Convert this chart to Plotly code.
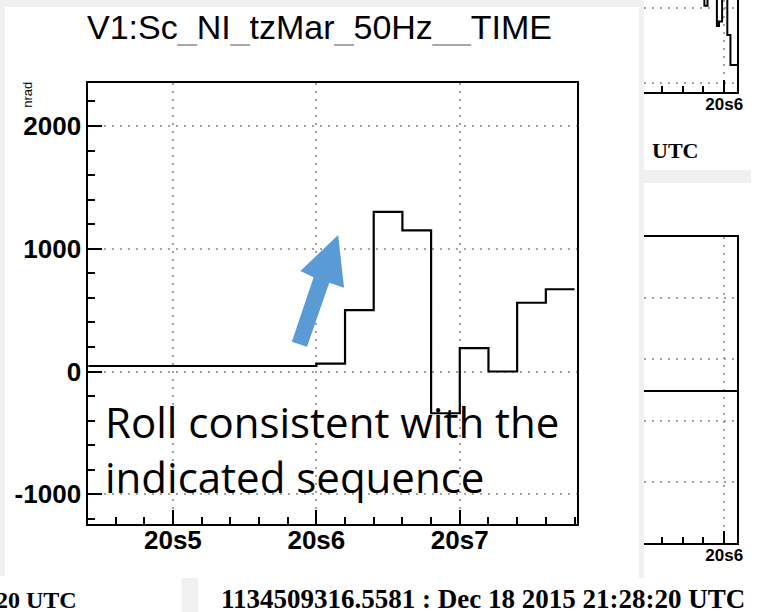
import plotly.graph_objects as go

# main panel: V1:Sc_NI_tzMar_50Hz__TIME, 0.2 s bins (seconds after 21:28:20 UTC)
bin_edges = [4.4, 4.6, 4.8, 5.0, 5.2, 5.4, 5.6, 5.8, 6.0, 6.2, 6.4, 6.6, 6.8, 7.0, 7.2, 7.4, 7.6, 7.8]
roll_nrad = [45, 45, 45, 45, 45, 45, 45, 45, 65, 500, 1300, 1150, -340, 190, 0, 560, 670]

x_tickvals = [5, 6, 7]
x_ticktext = ["20s5", "20s6", "20s7"]
y_tickvals = [-1000, 0, 1000, 2000]
y_ticktext = ["-1000", "0", "1000", "2000"]

# neighbouring panels, only partly visible on the right
top_t = [5.2, 5.80, 5.81, 5.84, 5.93, 5.95, 5.98, 6.03, 6.06, 6.13]
top_v = [1500, 1500, 1030, 1500, 760, 820, 1500, 640, 240, 240]
bot_t = [5.2, 6.13]
bot_v = [1.48, 1.48]
side_tickvals = [6]
side_ticktext = ["20s6"]

W, H = 757, 612
GRAY = "#f0f0f0"
GRID = "#a3a3a3"


def px(x):
    return x / W


def py(y):
    return 1 - y / H


fig = go.Figure()
fig.add_trace(go.Scatter(x=bin_edges, y=roll_nrad + [roll_nrad[-1]], mode="lines",
                         line=dict(shape="hv", color="black", width=2.2),
                         xaxis="x", yaxis="y", showlegend=False))
fig.add_trace(go.Scatter(x=top_t, y=top_v, mode="lines",
                         line=dict(shape="hv", color="black", width=2),
                         xaxis="x2", yaxis="y2", showlegend=False))
fig.add_trace(go.Scatter(x=bot_t, y=bot_v, mode="lines",
                         line=dict(color="black", width=2),
                         xaxis="x3", yaxis="y3", showlegend=False))

tick_font = dict(family="Liberation Sans", size=26, color="black", weight="bold")
small_font = dict(family="Liberation Sans", size=17, color="black", weight="bold")
common = dict(showline=True, linecolor="black", linewidth=2, zeroline=False,
              showgrid=True, gridcolor=GRID, gridwidth=1.5, griddash="2px,6px",
              tickcolor="black", tickwidth=2, ticks="inside")

fig.update_layout(
    width=W, height=H,
    margin=dict(l=0, r=0, t=0, b=0),
    paper_bgcolor="white", plot_bgcolor="white",
    xaxis=dict(domain=[px(89), px(582)], range=[4.41, 7.82], anchor="y",
               tickmode="array", tickvals=x_tickvals, ticktext=x_ticktext,
               ticklen=14, mirror=True, tickfont=tick_font, ticklabelstandoff=-8,
               minor=dict(dtick=0.2, tick0=5, ticks="inside", ticklen=7,
                          tickwidth=2, tickcolor="black", showgrid=False),
               **common),
    yaxis=dict(domain=[py(524), py(83)], range=[-1242, 2350], anchor="x",
               tickmode="array", tickvals=y_tickvals, ticktext=y_ticktext,
               ticklen=14, mirror=True, tickfont=tick_font,
               minor=dict(dtick=200, tick0=0, ticks="inside", ticklen=7,
                          tickwidth=2, tickcolor="black", showgrid=False),
               **common),
    xaxis2=dict(domain=[px(649), px(743)], range=[5.229, 6.124], anchor="y2",
                tickmode="array", tickvals=side_tickvals, ticktext=side_ticktext,
                ticklen=12, tickfont=small_font, ticklabelstandoff=-4,
                minor=dict(dtick=0.2, tick0=6, ticks="inside", ticklen=6,
                           tickwidth=2, tickcolor="black", showgrid=False),
                **common),
    yaxis2=dict(domain=[py(92), 1], range=[-120, 1107], anchor="x2", side="right",
                tickvals=[0, 1000], showticklabels=False,
                **{**common, "ticks": ""}),
    xaxis3=dict(domain=[px(649), px(743)], range=[5.229, 6.124], anchor="y3",
                tickmode="array", tickvals=side_tickvals, ticktext=side_ticktext,
                ticklen=12, mirror=True, tickfont=small_font, ticklabelstandoff=-4,
                minor=dict(dtick=0.2, tick0=6, ticks="inside", ticklen=6,
                           tickwidth=2, tickcolor="black", showgrid=False),
                **common),
    yaxis3=dict(domain=[py(543), py(237)], range=[-0.992, 3.984], anchor="x3", side="right",
                tickvals=[0, 1, 2, 3], showticklabels=False,
                **{**common, "ticks": ""}),
)

# grey gaps between the canvases of the screenshot
for x0, y0, x1, y1 in [(0, 0, 644, 7), (0, 0, 5, 576), (644, 0, 649, 578),
                       (649, 170, 757, 183), (183, 578, 200, 612)]:
    fig.add_shape(type="rect", xref="paper", yref="paper",
                  x0=px(x0), x1=px(x1), y0=py(y1), y1=py(y0),
                  fillcolor=GRAY, line=dict(width=0), layer="above")

# blue arrow (data coordinates of the main panel)
arrow = [(5.829, 243), (5.981, 767), (5.889, 819), (6.152, 1112),
         (6.193, 683), (6.090, 723), (5.935, 202)]
path = "M " + " L ".join(f"{a},{b}" for a, b in arrow) + " Z"
fig.add_shape(type="path", xref="x", yref="y", path=path,
              fillcolor="#5b9bd5", line=dict(width=0), layer="above")

u = "<span style='color:#a8a8a8'>_</span>"
title = f"V1:Sc{u}NI{u}tzMar{u}50Hz{u}{u}TIME"
notes = [
    dict(text=title, x=px(322), y=py(27), xanchor="center", yanchor="middle",
         font=dict(family="Liberation Sans", size=34, color="black")),
    dict(text="nrad", x=px(27), y=py(95), xanchor="center", yanchor="middle", textangle=-90,
         font=dict(family="Liberation Sans", size=13, color="black")),
    dict(text="Roll consistent with the", x=px(104), y=py(421), xanchor="left", yanchor="middle",
         font=dict(family="Open Sans", size=42, color="black")),
    dict(text="indicated sequence", x=px(104), y=py(476), xanchor="left", yanchor="middle",
         font=dict(family="Open Sans", size=42, color="black")),
    dict(text="21:28:20 UTC", x=px(80), y=py(600), xanchor="right", yanchor="middle",
         font=dict(family="Liberation Serif", size=24, color="black", weight="bold")),
    dict(text="1134509316.5581 : Dec 18 2015 21:28:20 UTC", x=px(753), y=py(599),
         xanchor="right", yanchor="middle",
         font=dict(family="Liberation Serif", size=27, color="black", weight="bold")),
    dict(text="UTC", x=px(655), y=py(150), xanchor="left", yanchor="middle",
         font=dict(family="Liberation Serif", size=22, color="black", weight="bold")),
]
for n in notes:
    fig.add_annotation(xref="paper", yref="paper", showarrow=False, **n)

fig.write_html("out.html", config={"displayModeBar": False},
               post_script="document.body.style.margin = '0';")
